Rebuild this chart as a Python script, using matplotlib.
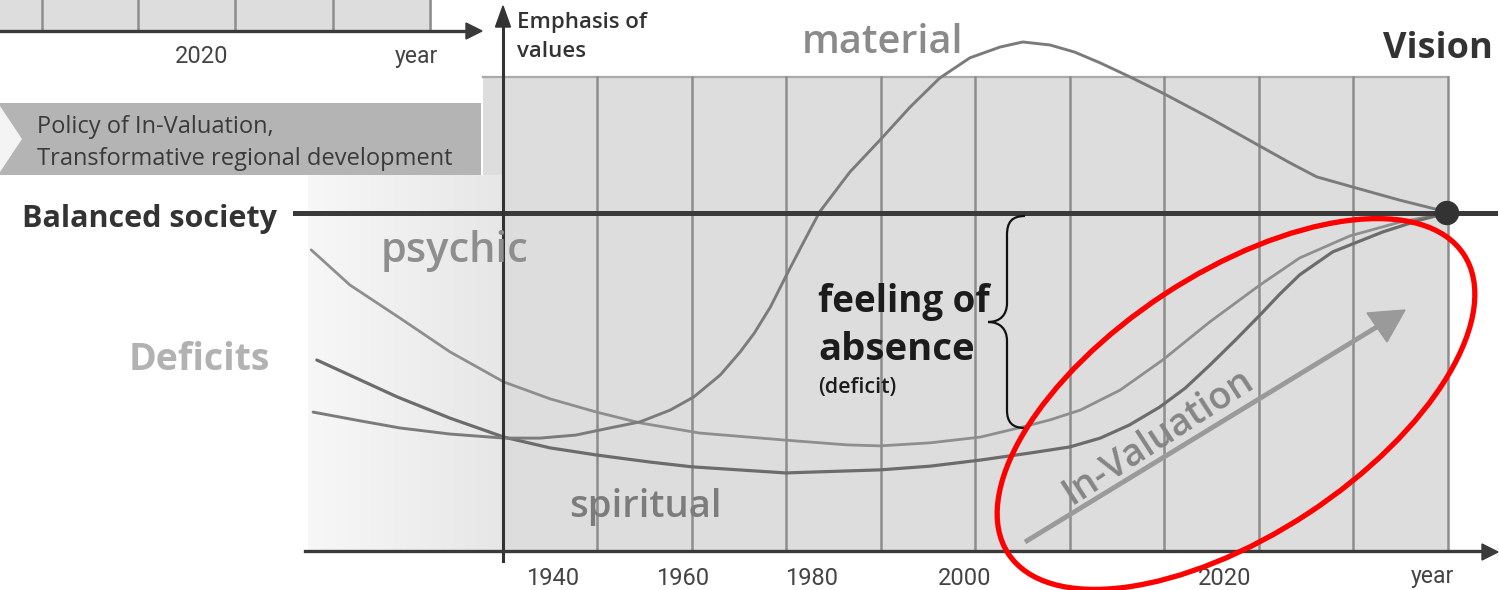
import numpy as np
import matplotlib
matplotlib.use("Agg")
import matplotlib.pyplot as plt
from matplotlib import transforms as mtransforms
from matplotlib.patches import Rectangle, Polygon, Ellipse, Circle, PathPatch
from matplotlib.path import Path

# ---------------- data (x: grid columns after the value axis, y: emphasis; 1.0 = balanced society)
tick_labels = ["1940", "1960", "1980", "2000", "2020"]
tick_pos = [0.53, 1.90, 3.26, 4.89, 7.64]
year_label_pos = 9.84

psychic_x = [-2.03, -1.62, -1.09, -0.56, 0.01, 0.50, 0.99, 1.45, 2.08, 2.99, 3.64, 3.99, 4.52, 5.05,
             5.50, 5.79, 6.11, 6.53, 6.98, 7.48, 8.01, 8.43, 8.96, 9.49, 9.99]
psychic_y = [0.891, 0.787, 0.689, 0.589, 0.500, 0.450, 0.411, 0.379, 0.349, 0.328, 0.314, 0.311, 0.320, 0.337,
             0.367, 0.388, 0.417, 0.476, 0.565, 0.678, 0.787, 0.867, 0.932, 0.973, 1.0]

spiritual_x = [-1.97, -1.51, -1.12, -0.56, 0.01, 0.50, 0.99, 1.56, 2.00, 2.99, 3.99, 4.52, 5.05, 5.58,
               6.00, 6.32, 6.63, 6.95, 7.22, 7.48, 7.75, 8.01, 8.22, 8.43, 8.78, 9.31, 9.70, 9.99]
spiritual_y = [0.565, 0.506, 0.456, 0.393, 0.337, 0.305, 0.284, 0.263, 0.249, 0.231, 0.240, 0.251, 0.269, 0.290,
               0.308, 0.334, 0.373, 0.426, 0.482, 0.550, 0.624, 0.698, 0.760, 0.817, 0.885, 0.944, 0.979, 1.0]

material_x = [-2.01, -1.51, -1.09, -0.56, 0.01, 0.39, 0.77, 1.13, 1.45, 1.77, 2.02, 2.30, 2.51, 2.66, 2.83,
              2.99, 3.17, 3.35, 3.67, 3.99, 4.31, 4.62, 4.94, 5.26, 5.50, 5.79, 6.05, 6.32, 6.64, 6.98,
              7.48, 7.99, 8.33, 8.61, 8.99, 9.49, 9.99]
material_y = [0.411, 0.385, 0.364, 0.346, 0.334, 0.334, 0.343, 0.364, 0.382, 0.417, 0.456, 0.521, 0.589, 0.645, 0.722,
              0.811, 0.908, 1.003, 1.121, 1.216, 1.314, 1.399, 1.459, 1.491, 1.506, 1.497, 1.476, 1.444, 1.402, 1.355,
              1.281, 1.201, 1.148, 1.107, 1.077, 1.038, 1.003]

n_columns = 10
balanced_level = 1.0
grid_top = 1.402

# ---------------- figure
W, H = 1499, 590
fig = plt.figure(figsize=(W / 100, H / 100), dpi=100)
ax = fig.add_axes([0, 0, 1, 1])
ax.set_axis_off()
X0, X1 = (0 - 503) / 94.5, (W - 503) / 94.5
Y0, Y1 = (551 - H) / 338, 551 / 338
# pixel transform for decorations (y down)
P = mtransforms.Affine2D().scale(1 / W, -1 / H).translate(0, 1) + fig.transFigure

FONT = "Open Sans"

# grid panel
ax.add_patch(Rectangle((-0.21, 0), n_columns + 0.21, grid_top, facecolor="#dddddd", edgecolor="none", zorder=0))
ax.plot([-0.21, n_columns], [grid_top, grid_top], color="#a9a9a9", lw=1.6, zorder=1)
for c in range(1, n_columns + 1):
    ax.plot([c, c], [0, grid_top], color="#8d8d8d", lw=1.8, zorder=1)

# gradient left of the value axis
grad = np.linspace(0.97, 0.905, 200)
img = np.tile(grad, (10, 1))
ax.imshow(np.dstack([img, img, img]), extent=[(308 - 503) / 94.5, 0, 0, (551 - 175) / 338],
          aspect="auto", zorder=0.5, interpolation="bilinear")

# curves
ax.plot(psychic_x, psychic_y, color="#8e8e8e", lw=2.0, zorder=3, solid_capstyle="round", solid_joinstyle="round")
ax.plot(spiritual_x, spiritual_y, color="#6c6c6c", lw=2.3, zorder=3, solid_capstyle="round", solid_joinstyle="round")
ax.plot(material_x, material_y, color="#7b7b7b", lw=2.1, zorder=3, solid_capstyle="round", solid_joinstyle="round")

# balanced line & axes
ax.plot([(295 - 503) / 94.5, (1495 - 503) / 94.5], [balanced_level, balanced_level], color="#3a3a3a", lw=3.6, zorder=4)
ax.plot([0, 0], [-0.03, (551 - 24) / 338], color="#333333", lw=2.2, zorder=4)
ax.add_patch(Polygon([(503, 6), (495.5, 27), (510.5, 27)], closed=True, transform=P, color="#333333", zorder=4))
ax.plot([(305 - 503) / 94.5, (1484 - 503) / 94.5], [0, 0], color="#3a3a3a", lw=2.4, zorder=4)
ax.add_patch(Polygon([(1498, 552), (1482, 544), (1482, 560)], closed=True, transform=P, color="#3a3a3a", zorder=4))

# vision dot
ax.add_patch(Circle((1447, 213), 11.5, transform=P, color="#333333", zorder=6))

# tick labels
for lab, xp in zip(tick_labels, tick_pos):
    ax.text(xp, (551 - 585) / 338, lab, ha="center", va="baseline", fontsize=17, color="#444444", family="Roboto")
ax.text(year_label_pos, (551 - 583) / 338, "year", ha="center", va="baseline", fontsize=16.5, color="#444444", family="Roboto")

# ---- inset (top-left fragment of another chart)
ax.add_patch(Rectangle((0, 0), 432, 31, transform=P, facecolor="#dddddd", edgecolor="none", zorder=1))
for xp in [42, 138, 235, 333, 430]:
    ax.plot([xp, xp], [0, 31], transform=P, color="#8d8d8d", lw=1.8, zorder=1.5)
ax.plot([0, 468], [31, 31], transform=P, color="#3a3a3a", lw=2.4, zorder=2)
ax.add_patch(Polygon([(482, 31), (466, 23), (466, 39)], closed=True, transform=P, color="#3a3a3a", zorder=2))
ax.text(202, 63, "2020", transform=P, ha="center", va="baseline", fontsize=17, color="#444444", family="Roboto")
ax.text(416, 63, "year", transform=P, ha="center", va="baseline", fontsize=16.5, color="#444444", family="Roboto")

ax.add_patch(Rectangle((0, 103), 481, 72, transform=P, facecolor="#b4b4b4", edgecolor="none", zorder=2))
ax.add_patch(Polygon([(0, 106), (22, 139), (0, 172)], closed=True, transform=P, facecolor="#f4f4f4", edgecolor="none", zorder=2.5))
ax.text(37, 133, "Policy of In-Valuation,", transform=P, ha="left", va="baseline", fontsize=17, color="#3a3a3a", family=FONT)
ax.text(37, 165, "Transformative regional development", transform=P, ha="left", va="baseline", fontsize=17, color="#3a3a3a", family=FONT)

# ---- text labels
ax.text(517, 28, "Emphasis of", transform=P, ha="left", va="baseline", fontsize=16, color="#333333", family=FONT, weight="semibold")
ax.text(517, 57, "values", transform=P, ha="left", va="baseline", fontsize=16, color="#333333", family=FONT, weight="semibold")
ax.text(883, 53, "material", transform=P, ha="center", va="baseline", fontsize=28.5, color="#8a8a8a", family=FONT, weight="semibold")
ax.text(1493, 58, "Vision", transform=P, ha="right", va="baseline", fontsize=26, color="#333333", family=FONT, weight="bold")
ax.text(22, 227, "Balanced society", transform=P, ha="left", va="baseline", fontsize=22, color="#333333", family=FONT, weight="bold")
ax.text(381, 262, "psychic", transform=P, ha="left", va="baseline", fontsize=30, color="#8e8e8e", family=FONT, weight="semibold", zorder=5)
ax.text(129, 370, "Deficits", transform=P, ha="left", va="baseline", fontsize=27, color="#b2b2b2", family=FONT, weight="bold")
ax.text(569, 517, "spiritual", transform=P, ha="left", va="baseline", fontsize=27.5, color="#7c7c7c", family=FONT, weight="semibold", zorder=5)
ax.text(818, 312, "feeling of", transform=P, ha="left", va="baseline", fontsize=26.5, color="#1c1c1c", family=FONT, weight="bold", zorder=5)
ax.text(818, 360, "absence", transform=P, ha="left", va="baseline", fontsize=27.5, color="#1c1c1c", family=FONT, weight="bold", zorder=5)
ax.text(818, 393, "(deficit)", transform=P, ha="left", va="baseline", fontsize=15.5, color="#1c1c1c", family=FONT, weight="semibold", zorder=5)

# brace
verts = [(1025, 216), (1012, 216), (1007, 222), (1007, 235),
         (1007, 303),
         (1007, 315), (1000, 322), (988, 322),
         (1000, 322), (1007, 329), (1007, 341),
         (1007, 410),
         (1007, 422), (1012, 428), (1025, 428)]
codes = [Path.MOVETO, Path.CURVE4, Path.CURVE4, Path.CURVE4,
         Path.LINETO,
         Path.CURVE4, Path.CURVE4, Path.CURVE4,
         Path.CURVE4, Path.CURVE4, Path.CURVE4,
         Path.LINETO,
         Path.CURVE4, Path.CURVE4, Path.CURVE4]
ax.add_patch(PathPatch(Path(verts, codes), transform=P, facecolor="none", edgecolor="#111111", lw=1.6, zorder=5))

# In-Valuation arrow and label
ax.plot([1025, 1380], [542, 325], transform=P, color="#9a9a9a", lw=3.5, zorder=3, solid_capstyle="butt")
ax.add_patch(Polygon([(1405, 310), (1367, 313), (1387, 342)], closed=True, transform=P, color="#9a9a9a", zorder=3))
ax.text(1158, 437, "In-Valuation", transform=P, ha="center", va="center", rotation=33, rotation_mode="anchor",
        fontsize=27, color="#858585", family=FONT, weight="semibold", zorder=5)

# red ellipse
ax.add_patch(Ellipse((1236, 404), 545, 262, angle=-33.3, transform=P, facecolor="none", edgecolor="#ff0000", lw=3.8, zorder=7))

ax.set_xlim(X0, X1)
ax.set_ylim(Y0, Y1)
fig.savefig("out.png", dpi=100, facecolor="white")
